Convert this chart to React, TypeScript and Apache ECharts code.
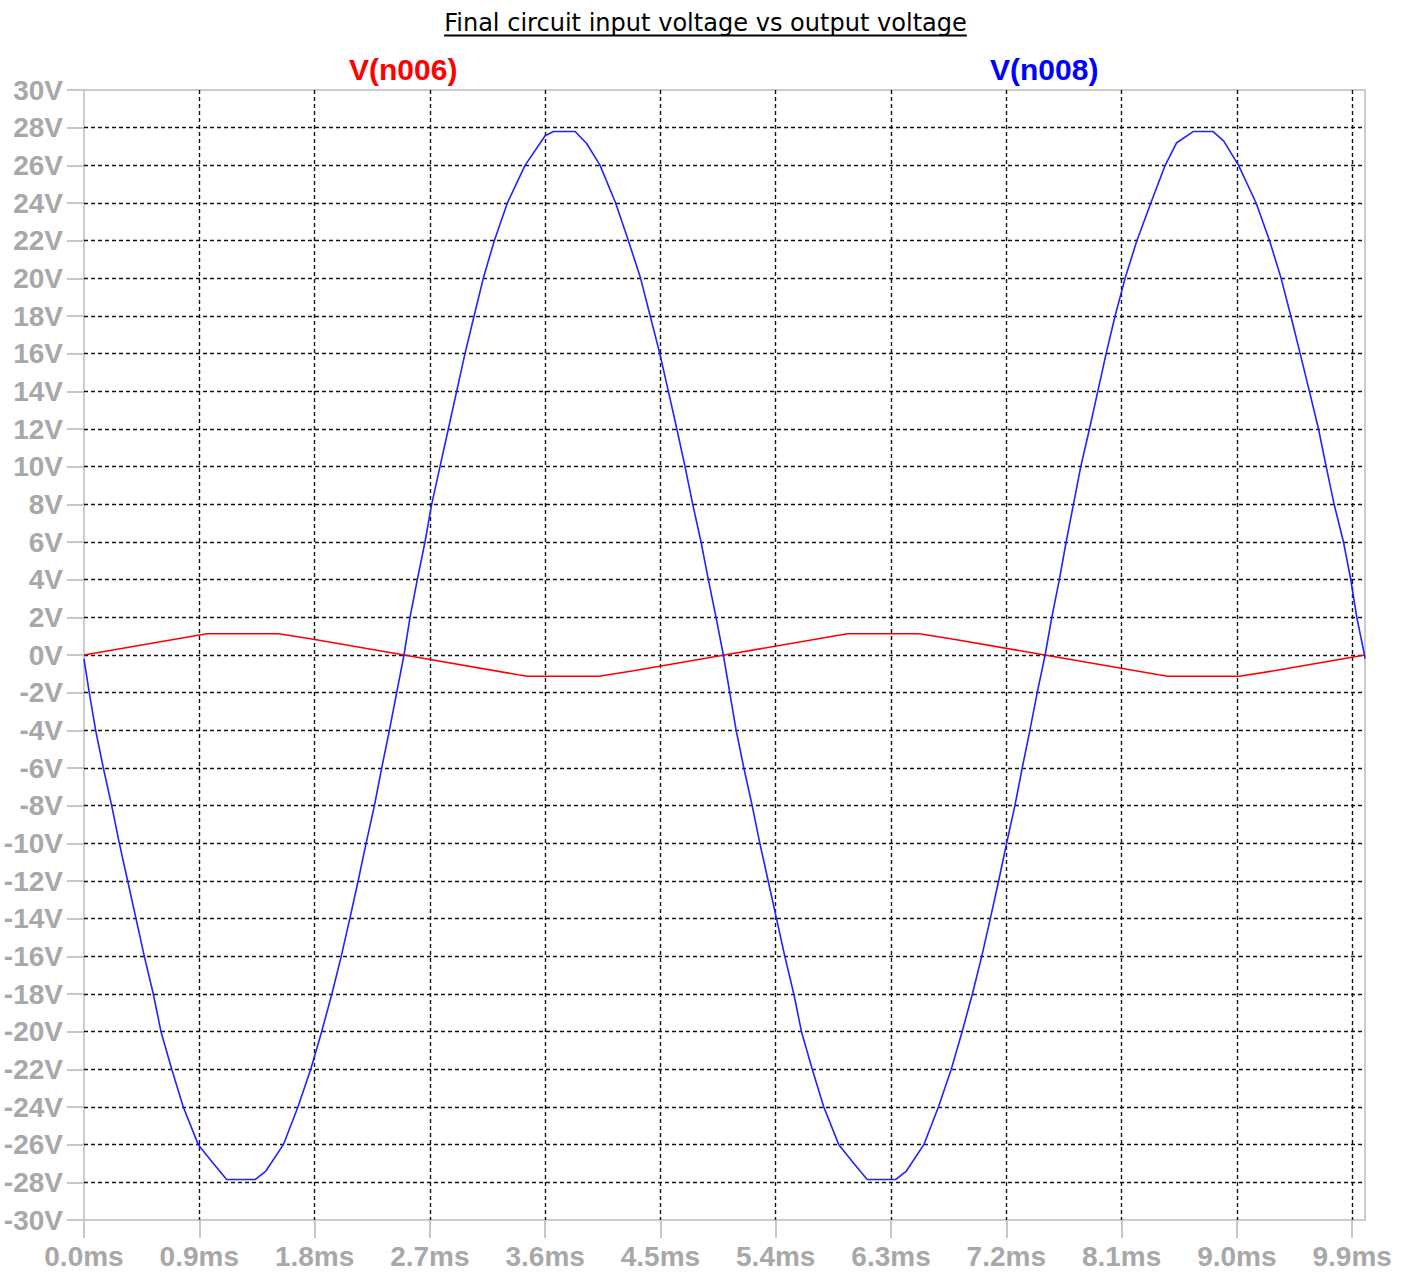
import React, { useEffect, useRef } from 'react';
import * as echarts from 'echarts';

const titleText = 'Final circuit input voltage vs output voltage';
const redName = 'V(n006)';
const blueName = 'V(n008)';

// V(n006) — input (ms, V)
const redTimes = [0, 0.89, 0.96, 1.52, 1.79, 2.5, 3.39, 3.46, 4.02, 4.29, 5.0, 5.89, 5.96, 6.52, 6.79, 7.5, 8.39, 8.46, 9.02, 9.29, 10.0];
const redVolts = [0, 1.05, 1.13, 1.13, 0.84, 0, -1.05, -1.13, -1.13, -0.84, 0, 1.05, 1.13, 1.13, 0.84, 0, -1.05, -1.13, -1.13, -0.84, 0];

// V(n008) — output (ms, V)
const blueTimes = [
  0, 0.041, 0.091, 0.151, 0.216, 0.276, 0.341, 0.406, 0.471, 0.541, 0.601, 0.685, 0.775, 0.892, 1.01, 1.114, 1.335, 1.42, 1.556,
  1.67, 1.77, 1.855, 1.935, 2.008, 2.075, 2.14, 2.202, 2.267, 2.324, 2.384, 2.441, 2.498,
  2.545, 2.602, 2.662, 2.714, 2.779, 2.844, 2.909, 2.974, 3.045, 3.117, 3.203, 3.305, 3.443, 3.6, 3.664, 3.834, 3.924, 4.029,
  4.15, 4.25, 4.345, 4.42, 4.495, 4.562, 4.628, 4.692, 4.752, 4.817, 4.874, 4.934, 4.991,
  5.041, 5.091, 5.151, 5.216, 5.276, 5.341, 5.406, 5.471, 5.541, 5.601, 5.685, 5.775, 5.892, 6.01, 6.114, 6.335, 6.42, 6.556,
  6.67, 6.77, 6.855, 6.935, 7.008, 7.075, 7.14, 7.202, 7.267, 7.324, 7.384, 7.441, 7.503,
  7.555, 7.614, 7.667, 7.724, 7.781, 7.849, 7.914, 7.979, 8.049, 8.127, 8.219, 8.328, 8.44, 8.53, 8.661, 8.812, 8.896, 9.013,
  9.15, 9.255, 9.345, 9.421, 9.494, 9.566, 9.637, 9.697, 9.759, 9.832, 9.889, 9.936, 9.996, 10.0,
];
const blueVolts = [
  -0.2, -2, -4, -6, -8, -10, -12, -14, -16, -18, -20, -22, -24, -26, -27.0, -27.85, -27.85, -27.4, -26,
  -24, -22, -20, -18, -16, -14, -12, -10, -8, -6, -4, -2, 0,
  2, 4, 6, 8, 10, 12, 14, 16, 18, 20, 22, 24, 26, 27.57, 27.8, 27.8, 27.16, 26,
  24, 22, 20, 18, 16, 14, 12, 10, 8, 6, 4, 2, 0,
  -2, -4, -6, -8, -10, -12, -14, -16, -18, -20, -22, -24, -26, -27.0, -27.85, -27.85, -27.4, -26,
  -24, -22, -20, -18, -16, -14, -12, -10, -8, -6, -4, -2, 0,
  2, 4, 6, 8, 10, 12, 14, 16, 18, 20, 22, 24, 26, 27.2, 27.8, 27.8, 27.3, 26,
  24, 22, 20, 18, 16, 14, 12, 10, 8, 6, 4, 2, 0, -0.2,
];

const xMin = 0;
const xMax = 10;
const xStep = 0.9;
const yMin = -30;
const yMax = 30;
const yStep = 2;

const zip = (a: number[], b: number[]) => a.map((t, i) => [t, b[i]]);

export default function App() {
  const ref = useRef<HTMLDivElement>(null);

  useEffect(() => {
    if (!ref.current) return;
    const chart = echarts.init(ref.current, null, { renderer: 'svg' });

    const titleFamily = '"DejaVu Sans"';
    const targetTitleWidth = 523;
    let titleFontSize = 21;
    let titleWidth = targetTitleWidth;
    try {
      const ctx = document.createElement('canvas').getContext('2d');
      if (ctx) {
        ctx.font = `100px ${titleFamily}`;
        const w100 = ctx.measureText(titleText).width;
        if (w100 > 0) {
          titleFontSize = Math.max(16, Math.min(26, (targetTitleWidth / w100) * 100));
          ctx.font = `${titleFontSize}px ${titleFamily}`;
          titleWidth = ctx.measureText(titleText).width;
        }
      }
    } catch (e) {}
    const titleCx = 705.5;

    const labelFont = {
      fontFamily: '"Liberation Sans", Arial, sans-serif',
      fontWeight: 'bold' as const,
      fontSize: 28,
      color: '#a8a8a8',
    };
    const gridLine = { color: '#111', width: 1.4, type: [4, 3] as number[] };
    const tickLine = { color: '#c8c8c8', width: 2 };

    chart.setOption({
      animation: false,
      backgroundColor: '#ffffff',
      grid: {
        left: 84,
        right: 45,
        top: 90,
        bottom: 53,
        show: true,
        borderColor: '#cccccc',
        borderWidth: 2,
        containLabel: false,
        outerBoundsMode: 'none',
      },
      legend: [
        {
          data: [redName],
          left: 344,
          top: 54,
          padding: 0,
          icon: 'none',
          itemWidth: 0,
          itemHeight: 30,
          selectedMode: false,
          textStyle: { color: '#ff0000', fontSize: 30, fontWeight: 'bold', fontFamily: '"Liberation Sans", Arial, sans-serif' },
        },
        {
          data: [blueName],
          left: 985,
          top: 54,
          padding: 0,
          icon: 'none',
          itemWidth: 0,
          itemHeight: 30,
          selectedMode: false,
          textStyle: { color: '#0000ff', fontSize: 30, fontWeight: 'bold', fontFamily: '"Liberation Sans", Arial, sans-serif' },
        },
      ],
      graphic: [
        {
          type: 'text',
          x: titleCx,
          y: 23,
          style: {
            text: titleText,
            fill: '#000',
            font: `${titleFontSize}px ${titleFamily}`,
            align: 'center',
            verticalAlign: 'middle',
          },
        },
        {
          type: 'line',
          shape: { x1: titleCx - titleWidth / 2, y1: 35.5, x2: titleCx + titleWidth / 2, y2: 35.5 },
          style: { stroke: '#000', lineWidth: 2 },
        },
      ],
      xAxis: {
        type: 'value',
        min: xMin,
        max: xMax,
        interval: xStep,
        axisLine: { show: false, onZero: false },
        axisTick: { show: true, length: 18, lineStyle: tickLine },
        axisLabel: {
          ...labelFont,
          margin: 22,
          showMaxLabel: false,
          formatter: (v: number) => (Math.abs(v - xMax) < 1e-9 ? '' : v.toFixed(1) + 'ms'),
        },
        splitLine: { show: true, showMinLine: false, showMaxLine: false, lineStyle: gridLine },
      },
      yAxis: {
        type: 'value',
        min: yMin,
        max: yMax,
        interval: yStep,
        axisLine: { show: false, onZero: false },
        axisTick: { show: true, length: 17, lineStyle: tickLine },
        axisLabel: {
          ...labelFont,
          margin: 21,
          formatter: (v: number) => `${Math.round(v)}V`,
        },
        splitLine: { show: true, showMinLine: false, showMaxLine: false, lineStyle: gridLine },
      },
      series: [
        {
          name: redName,
          type: 'line',
          data: zip(redTimes, redVolts),
          showSymbol: false,
          symbol: 'none',
          lineStyle: { color: '#ff0000', width: 1.6 },
          itemStyle: { color: '#ff0000' },
          z: 3,
        },
        {
          name: blueName,
          type: 'line',
          data: zip(blueTimes, blueVolts),
          showSymbol: false,
          symbol: 'none',
          lineStyle: { color: '#2222ff', width: 1.6 },
          itemStyle: { color: '#0000ff' },
          z: 4,
        },
      ],
    });

    return () => chart.dispose();
  }, []);

  return <div ref={ref} style={{ position: 'fixed', left: 0, top: 0, width: 1410, height: 1273 }} />;
}
